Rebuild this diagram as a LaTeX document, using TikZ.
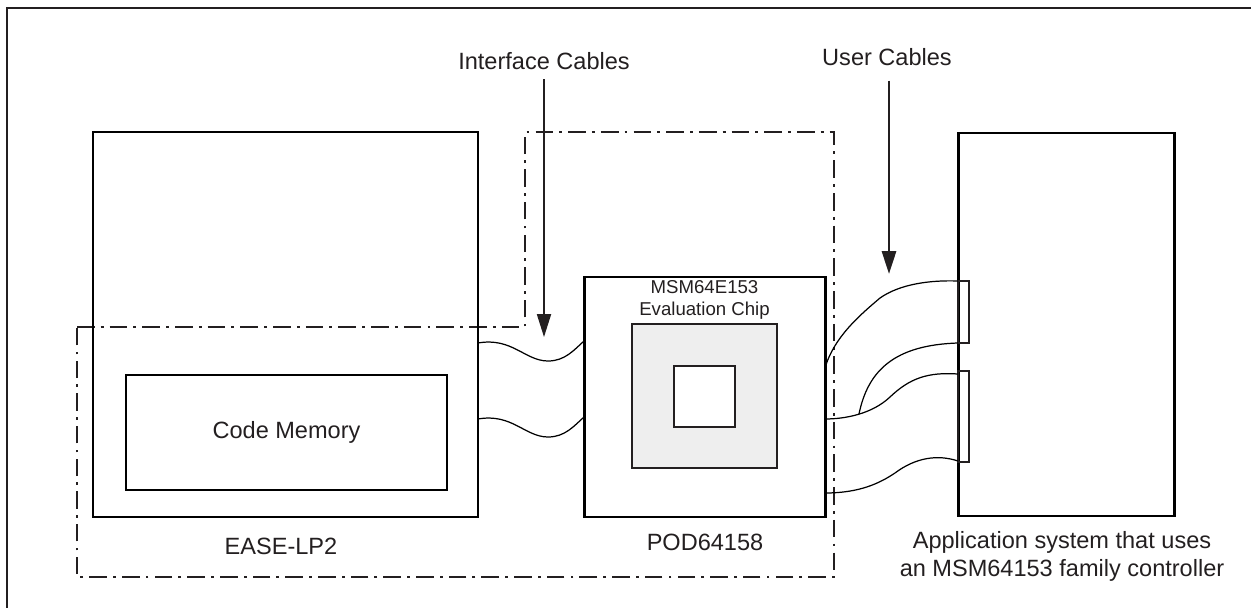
\documentclass[tikz,border=0pt]{standalone}
\usepackage{fontspec}
\setmainfont{Liberation Sans}
\usetikzlibrary{arrows.meta,fit}
\definecolor{ink}{HTML}{231F20}
\definecolor{chipgray}{HTML}{EEEEEE}
\tikzset{
  box/.style={draw=black, line width=1.7pt, inner sep=0pt},
  thinbox/.style={draw=ink, line width=0.8pt, inner sep=0pt},
  dashdot/.style={draw=ink, line width=1.5pt, dash pattern=on 10pt off 3.5pt on 1.6pt off 3.5pt},
  cable/.style={draw=black, line width=0.7pt},
  lbl/.style={text=ink, font=\fontsize{13.4}{16}\selectfont, inner sep=0pt, align=center},
  pointer/.style={draw=ink, -{Triangle[length=13pt,width=8pt]}},
}
\begin{document}
\begin{tikzpicture}[x=0.02cm, y=-0.02cm]
\useasboundingbox (0,0) rectangle (1251,608);
% frame (top and left edges only)
\draw[draw=ink, line width=1.4pt] (7,608) -- (7,8) -- (1251,8);
% dash-dot region
\draw[dashdot] (77,327) -- (525,327) -- (525,132) -- (834,132) -- (834,577) -- (77,577) -- cycle;
% boxes
\node[box, fit={(93,132)(478,517)}] (ease) {};
\node[box, fit={(126,375)(447,490)}] (mem) {};
\node[lbl] at (mem.center) {Code Memory};
\node[box, fit={(584,277)(825,517)}] (pod) {};
\node[thinbox, fill=chipgray, fit={(632,324)(777,468)}] (chip) {};
\node[thinbox, fill=white, fit={(674,366)(735,427)}] (die) {};
\node[text=ink, font=\fontsize{10.6}{12.8}\selectfont, align=center, inner sep=0pt] (chiplbl) at (704.5,300) {MSM64E153\\Evaluation Chip};
\node[box, fit={(958,133)(1174,516)}] (app) {};
\node[thinbox, fit={(958,281)(969,343)}] (conA) {};
\node[thinbox, fit={(958,371)(969,462)}] (conB) {};
% labels
\node[lbl] (easelbl) at (281,546) {EASE-LP2};
\node[lbl] (podlbl) at (705,542) {POD64158};
\node[lbl] (applbl) at (1062,556) {Application system that uses\\an MSM64153 family controller};
\node[lbl, anchor=base, inner ysep=5pt] (iflbl) at (544,70) {Interface Cables};
\node[lbl, anchor=base, inner ysep=8pt] (uclbl) at (887,66) {User Cables};
% pointer arrows
\coordinate (ifTip) at (544,337);
\coordinate (ucTip) at (889,274);
\draw[pointer, line width=0.9pt] (iflbl.south) -- (ifTip);
\draw[pointer, line width=1.5pt] (uclbl.south -| ucTip) -- (ucTip);
% interface cables
\coordinate (i1a) at (478,343); \coordinate (i1b) at (584,341);
\coordinate (i2a) at (478,419); \coordinate (i2b) at (584,417);
\draw[cable] (i1a) .. controls (512,337) and (525,361) .. (548,361) .. controls (565,361) and (574,350) .. (i1b);
\draw[cable] (i2a) .. controls (512,413) and (525,437) .. (548,437) .. controls (565,437) and (574,426) .. (i2b);
% user cables
\coordinate (uA) at (825,368); \coordinate (uAe) at (958,281);
\coordinate (uB) at (859,414); \coordinate (uBe) at (958,343);
\coordinate (uC) at (825,419); \coordinate (uCe) at (958,374);
\coordinate (uD) at (825,493); \coordinate (uDe) at (958,461);
\draw[cable] (uA) .. controls (834,337) and (860,315) .. (880,298) .. controls (900,284) and (930,280) .. (uAe);
\draw[cable] (uB) .. controls (868,370) and (895,345) .. (uBe);
\draw[cable] (uC) .. controls (845,419) and (872,414) .. (890,397) .. controls (910,378) and (928,372) .. (uCe);
\draw[cable] (uD) .. controls (860,493) and (880,483) .. (895,473) .. controls (915,458) and (937,454) .. (uDe);
\end{tikzpicture}
\end{document}
